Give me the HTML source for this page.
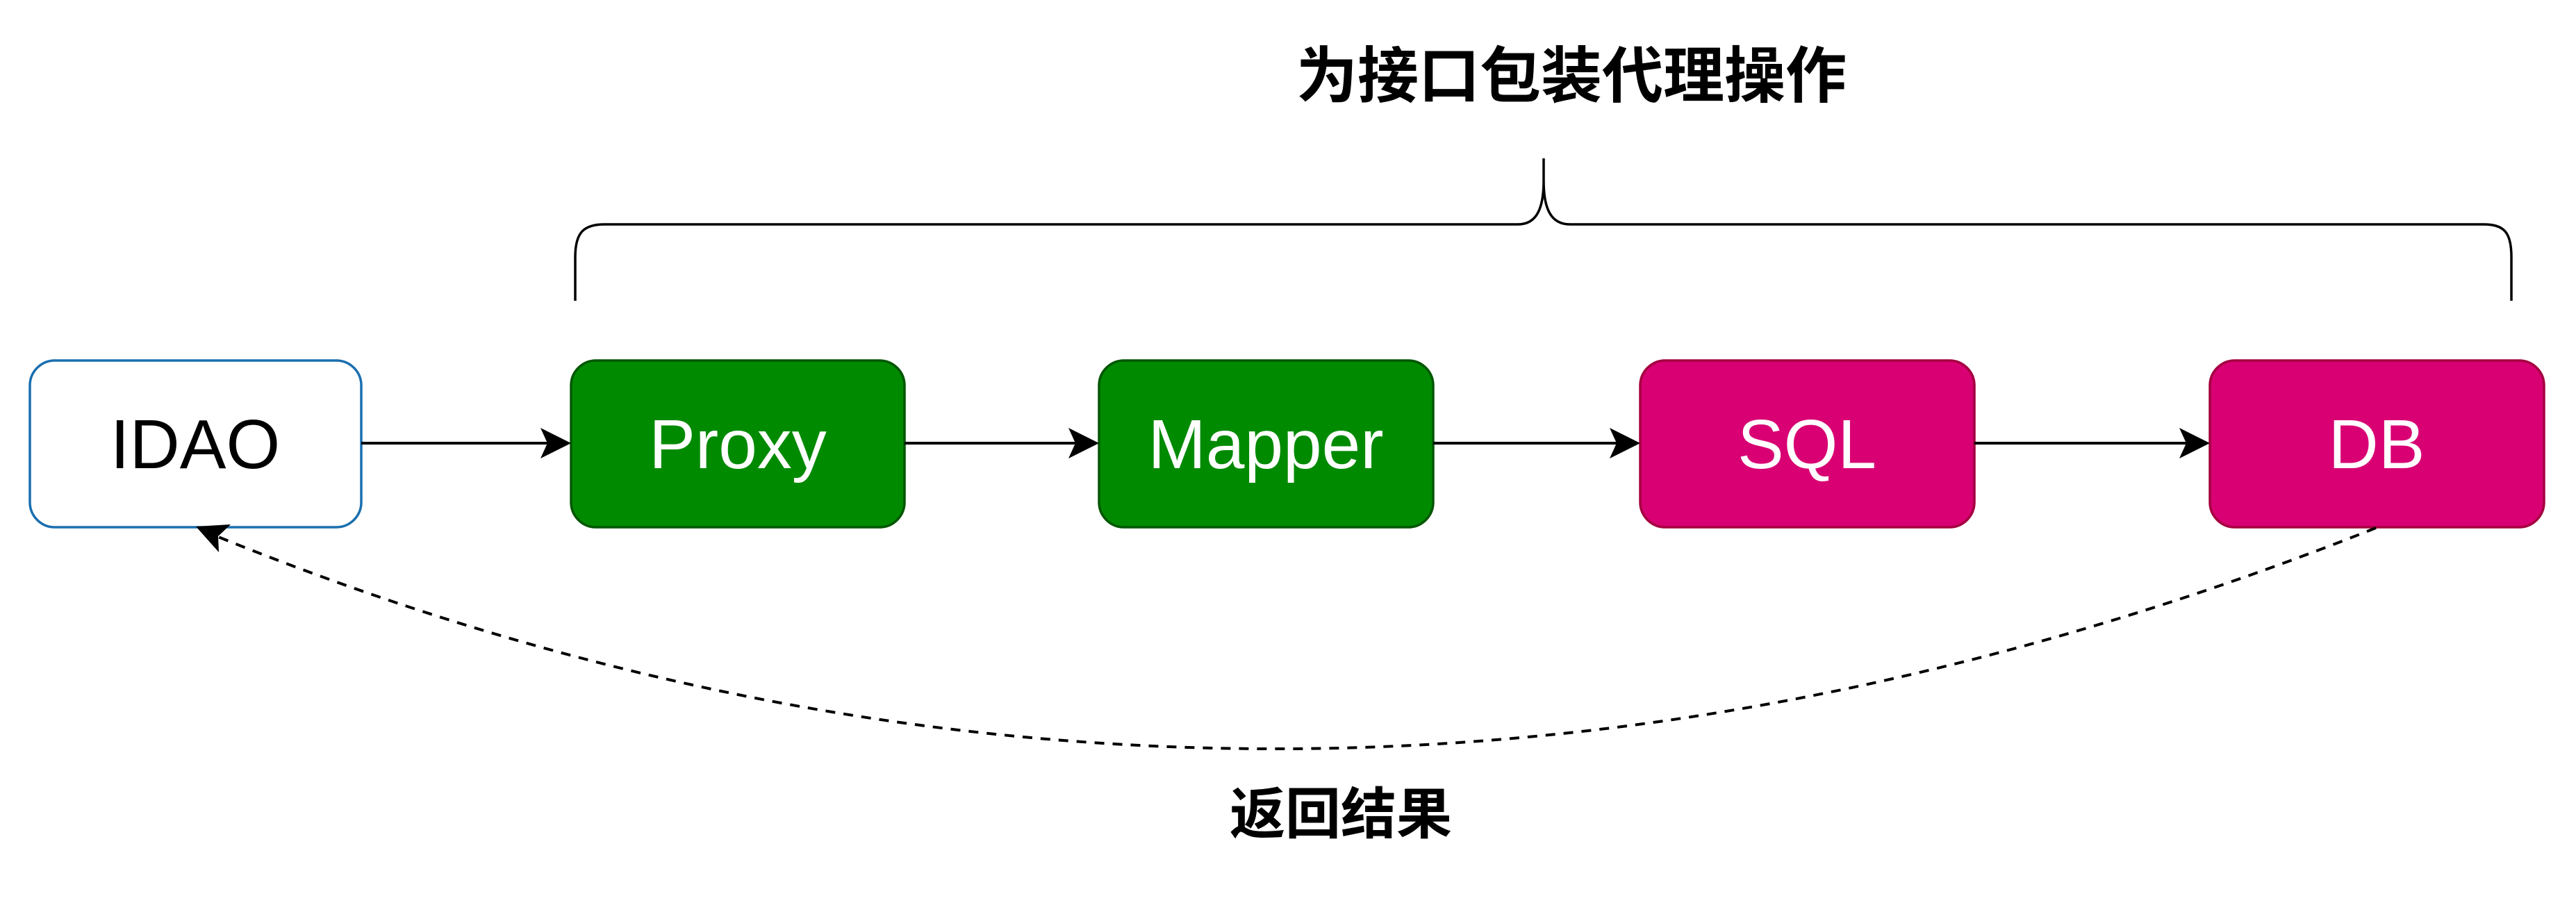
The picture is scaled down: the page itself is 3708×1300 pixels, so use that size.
<!DOCTYPE html>
<html><head><meta charset="utf-8"><style>
html,body{margin:0;padding:0;background:#fff;}
svg{display:block;}
</style></head><body>
<svg width="3708" height="1300" viewBox="0 0 3708 1300" xmlns="http://www.w3.org/2000/svg">
<text x="2262" y="140" font-family="'Liberation Sans','Noto Sans CJK SC',sans-serif" font-weight="bold" font-size="88" text-anchor="middle" fill="#000">为接口包装代理操作</text>
<path d="M828 433 L828 370 C828 335 840 323 870 323 L2185 323 C2212 323 2222 300 2222 260 L2222 228 M2222 260 C2222 300 2232 323 2260 323 L3575 323 C3605 323 3615 335 3615 370 L3615 433" fill="none" stroke="#000" stroke-width="3.5"/>
<rect x="43" y="519" width="477" height="240" rx="36" fill="#fff" stroke="#1a6fb0" stroke-width="3.5"/>
<rect x="822" y="519" width="480" height="240" rx="36" fill="#008a00" stroke="#005700" stroke-width="3.5"/>
<rect x="1582" y="519" width="481" height="240" rx="36" fill="#008a00" stroke="#005700" stroke-width="3.5"/>
<rect x="2361" y="519" width="481" height="240" rx="36" fill="#d80073" stroke="#a50040" stroke-width="3.5"/>
<rect x="3181" y="519" width="481" height="240" rx="36" fill="#d80073" stroke="#a50040" stroke-width="3.5"/>
<g font-family="'Liberation Sans',sans-serif" font-size="100" text-anchor="middle">
<text x="281" y="674" fill="#000">IDAO</text>
<text x="1062" y="674" fill="#fff">Proxy</text>
<text x="1822" y="674" fill="#fff">Mapper</text>
<text x="2601" y="674" fill="#fff">SQL</text>
<text x="3421" y="674" fill="#fff">DB</text>
</g>
<g stroke="#000" stroke-width="4" fill="none">
<line x1="520" y1="638" x2="800" y2="638"/>
<line x1="1302" y1="638" x2="1560" y2="638"/>
<line x1="2063" y1="638" x2="2340" y2="638"/>
<line x1="2842" y1="638" x2="3160" y2="638"/>
</g>
<g fill="#000">
<path d="M822 638 L778 616 L788 638 L778 660 Z"/>
<path d="M1582 638 L1538 616 L1548 638 L1538 660 Z"/>
<path d="M2361 638 L2317 616 L2327 638 L2317 660 Z"/>
<path d="M3181 638 L3137 616 L3147 638 L3137 660 Z"/>
</g>
<path d="M3420 760 Q1835 1390 312 772" fill="none" stroke="#000" stroke-width="4" stroke-dasharray="14 12"/>
<path d="M282 758 L332 755 L314 772 L315 795 Z" fill="#000"/>
<text x="1930" y="1200" font-family="'Liberation Sans','Noto Sans CJK SC',sans-serif" font-weight="bold" font-size="80" text-anchor="middle" fill="#000">返回结果</text>
</svg>
</body></html>
